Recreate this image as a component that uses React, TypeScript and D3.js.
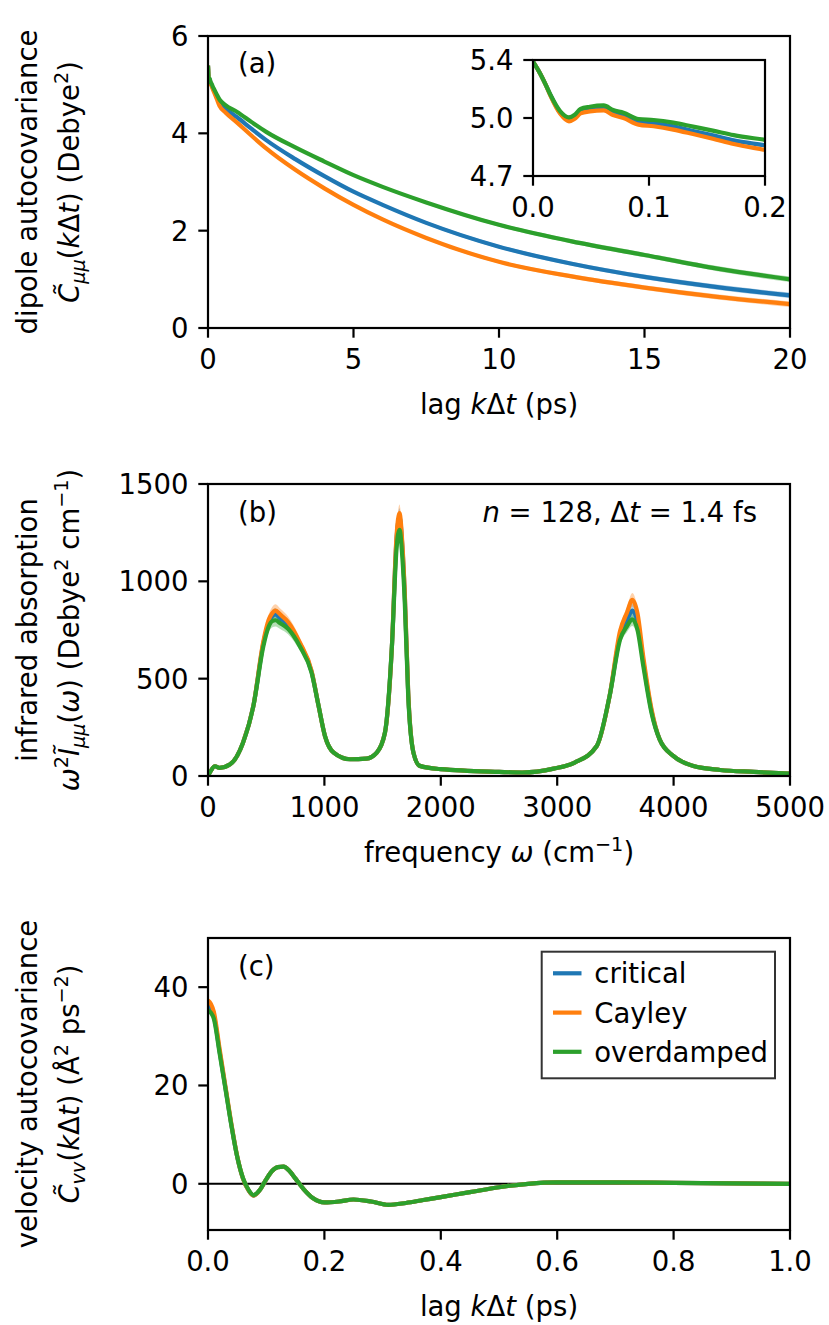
import React from 'react';
import * as d3 from 'd3';

const FONT = "'DejaVu Sans', sans-serif";
const FS = 27.5;

const seriesNames = ['critical', 'Cayley', 'overdamped'];
const seriesColors = ['#1f77b4', '#ff7f0e', '#2ca02c'];

// ---------- (a) dipole autocovariance ----------
const dipoleLag = [0, 0.006, 0.011, 0.015, 0.0235, 0.031, 0.036, 0.041, 0.049, 0.061, 0.069, 0.078, 0.091, 0.104, 0.121, 0.138, 0.155, 0.173, 0.2, 0.3, 0.4, 0.6, 1, 1.5, 2, 3, 4, 5, 6, 7.5, 10, 12.5, 15, 17.5, 20];
const dipoleCritical = [5.39, 5.32, 5.25, 5.19, 5.08, 5.04, 5.055, 5.09, 5.103, 5.11, 5.08, 5.064, 5.025, 5.018, 5.0, 4.972, 4.945, 4.915, 4.885, 4.75, 4.62, 4.51, 4.33, 4.09, 3.86, 3.47, 3.12, 2.80, 2.53, 2.16, 1.67, 1.32, 1.05, 0.84, 0.67];
const dipoleCayley = [5.39, 5.32, 5.25, 5.185, 5.075, 5.03, 5.045, 5.078, 5.09, 5.096, 5.068, 5.05, 5.01, 5.0, 4.98, 4.953, 4.925, 4.893, 4.857, 4.71, 4.56, 4.43, 4.22, 3.95, 3.69, 3.25, 2.87, 2.53, 2.23, 1.85, 1.36, 1.06, 0.83, 0.64, 0.49];
const dipoleOverdamped = [5.39, 5.32, 5.25, 5.19, 5.09, 5.054, 5.07, 5.105, 5.118, 5.126, 5.098, 5.082, 5.044, 5.038, 5.022, 4.998, 4.974, 4.947, 4.918, 4.80, 4.69, 4.58, 4.44, 4.23, 4.03, 3.71, 3.42, 3.14, 2.90, 2.58, 2.12, 1.78, 1.50, 1.22, 1.00];
const dipoleBand = [0.002, 0.002, 0.002, 0.003, 0.003, 0.003, 0.003, 0.004, 0.004, 0.004, 0.004, 0.004, 0.005, 0.005, 0.005, 0.005, 0.005, 0.006, 0.006, 0.007, 0.008, 0.009, 0.011, 0.013, 0.015, 0.018, 0.021, 0.024, 0.027, 0.031, 0.037, 0.042, 0.047, 0.052, 0.057];
const dipoleXTicks = [0, 5, 10, 15, 20];
const dipoleYTicks = [0, 2, 4, 6];
const insetXTicks = [0, 0.1, 0.2];
const insetXTickLabels = ['0.0', '0.1', '0.2'];
const insetYTicks = [4.7, 5.05, 5.4];
const insetYTickLabels = ['4.7', '5.0', '5.4'];

// ---------- (b) infrared absorption ----------
const irOmega = [0, 20, 60, 100, 190, 300, 390, 475, 520, 550, 580, 620, 690, 790, 890, 950, 1005, 1080, 1220, 1360, 1450, 1520, 1580, 1620, 1645, 1670, 1690, 1720, 1765, 1820, 2000, 2500, 2700, 2970, 3150, 3340, 3450, 3540, 3600, 3645, 3690, 3740, 3810, 3880, 4000, 4170, 4400, 4690, 5000];
const irCritical = [0, 22, 50, 42, 60, 170, 360, 680, 785, 820, 830, 810, 775, 675, 535, 360, 205, 120, 86, 89, 120, 222, 666, 1220, 1330, 1175, 940, 425, 120, 52, 35, 21, 18, 38, 69, 154, 410, 720, 800, 850, 790, 585, 335, 188, 102, 51, 31, 21, 12];
const irCayley = [0, 22, 50, 42, 60, 170, 360, 690, 800, 835, 850, 830, 790, 685, 540, 360, 205, 120, 86, 89, 120, 222, 666, 1235, 1350, 1190, 950, 430, 120, 52, 35, 21, 18, 38, 69, 154, 410, 745, 840, 905, 835, 610, 345, 188, 102, 51, 31, 21, 12];
const irOverdamped = [0, 22, 50, 42, 60, 170, 360, 665, 765, 795, 800, 785, 755, 665, 530, 360, 205, 120, 86, 89, 120, 222, 666, 1170, 1265, 1120, 900, 410, 120, 52, 35, 21, 18, 38, 69, 154, 410, 700, 770, 805, 750, 564, 325, 188, 102, 51, 31, 21, 12];
const irBand = [2, 3, 4, 4, 5, 8, 12, 20, 28, 32, 32, 30, 28, 22, 15, 10, 6, 4, 3, 3, 4, 8, 20, 35, 45, 35, 28, 14, 5, 3, 2, 2, 2, 2, 3, 6, 14, 25, 30, 35, 30, 22, 12, 7, 4, 3, 2, 2, 2];
const irXTicks = [0, 1000, 2000, 3000, 4000, 5000];
const irYTicks = [0, 500, 1000, 1500];

// ---------- (c) velocity autocovariance ----------
const vacfLag = [0, 0.005, 0.01, 0.02, 0.03, 0.04, 0.05, 0.06, 0.07, 0.078, 0.09, 0.1, 0.11, 0.12, 0.13, 0.14, 0.15, 0.165, 0.18, 0.2, 0.225, 0.25, 0.28, 0.31, 0.34, 0.37, 0.4, 0.45, 0.5, 0.55, 0.6, 0.7, 0.8, 0.9, 1.0];
const vacfCritical = [36.3, 35.6, 34.2, 26.9, 19.5, 12.1, 5.6, 1.1, -1.4, -2.4, -1.1, 0.9, 2.6, 3.4, 3.5, 2.6, 1.1, -1.2, -2.9, -3.8, -3.6, -3.2, -3.6, -4.3, -3.9, -3.3, -2.7, -1.7, -0.7, 0.0, 0.3, 0.3, 0.2, 0.1, 0.0];
const vacfCayley = [37.3, 36.6, 35.0, 27.4, 19.8, 12.3, 5.7, 1.1, -1.4, -2.4, -1.1, 0.9, 2.6, 3.4, 3.5, 2.6, 1.1, -1.2, -2.9, -3.8, -3.6, -3.2, -3.6, -4.3, -3.9, -3.3, -2.7, -1.7, -0.7, 0.0, 0.3, 0.3, 0.2, 0.1, 0.0];
const vacfOverdamped = [35.3, 34.8, 33.6, 26.5, 19.3, 12.0, 5.6, 1.2, -1.3, -2.3, -1.1, 0.9, 2.6, 3.4, 3.5, 2.6, 1.1, -1.2, -2.9, -3.8, -3.6, -3.2, -3.6, -4.3, -3.9, -3.3, -2.7, -1.7, -0.7, 0.0, 0.3, 0.3, 0.2, 0.1, 0.0];
const vacfBand = [0.3, 0.3, 0.3, 0.3, 0.3, 0.3, 0.2, 0.2, 0.2, 0.2, 0.2, 0.2, 0.2, 0.2, 0.2, 0.2, 0.2, 0.2, 0.2, 0.2, 0.2, 0.2, 0.2, 0.2, 0.2, 0.2, 0.2, 0.2, 0.2, 0.2, 0.2, 0.2, 0.2, 0.2, 0.2];
const vacfXTicks = [0, 0.2, 0.4, 0.6, 0.8, 1.0];
const vacfYTicks = [0, 20, 40];

// ---------- layout ----------
const W = 829;
const H = 1325;
const PL = 208;
const PR = 790;
const PH = 292;
const TOPS = [36, 484, 938];
const TICK = 9.7;
const SPINE = 2.2;
const LW = 4.2;

type Series = { xs: number[]; ys: number[]; band: number[]; color: string };

function Curves({ series, x, y, clipId }: { series: Series[]; x: any; y: any; clipId: string }) {
  return (
    <g clipPath={`url(#${clipId})`}>
      {series.map((s, k) => {
        const idx = d3.range(s.xs.length);
        const area = d3
          .area<number>()
          .x((i) => x(s.xs[i]))
          .y0((i) => y(s.ys[i] - s.band[i]))
          .y1((i) => y(s.ys[i] + s.band[i]))
          .curve(d3.curveMonotoneX);
        return <path key={'b' + k} d={area(idx) || ''} fill={s.color} fillOpacity={0.35} stroke="none" />;
      })}
      {series.map((s, k) => {
        const idx = d3.range(s.xs.length);
        const line = d3
          .line<number>()
          .x((i) => x(s.xs[i]))
          .y((i) => y(s.ys[i]))
          .curve(d3.curveMonotoneX);
        return (
          <path key={'l' + k} d={line(idx) || ''} fill="none" stroke={s.color} strokeWidth={LW} strokeLinejoin="round" strokeLinecap="butt" />
        );
      })}
    </g>
  );
}

function Frame({
  x, y, xTicks, xLabels, yTicks, yLabels, fs,
}: { x: any; y: any; xTicks: number[]; xLabels: string[]; yTicks: number[]; yLabels: string[]; fs: number }) {
  const [l, r] = x.range();
  const [b, t] = y.range();
  return (
    <g>
      <rect x={l} y={t} width={r - l} height={b - t} fill="none" stroke="black" strokeWidth={SPINE} />
      {xTicks.map((v, i) => (
        <g key={'x' + i}>
          <line x1={x(v)} x2={x(v)} y1={b} y2={b + TICK} stroke="black" strokeWidth={SPINE} />
          <text x={x(v)} y={b + 41} textAnchor="middle" fontSize={fs} fontFamily={FONT}>
            {xLabels[i]}
          </text>
        </g>
      ))}
      {yTicks.map((v, i) => (
        <g key={'y' + i}>
          <line x1={l - TICK} x2={l} y1={y(v)} y2={y(v)} stroke="black" strokeWidth={SPINE} />
          <text x={l - 19.4} y={y(v)} dy="0.36em" textAnchor="end" fontSize={fs} fontFamily={FONT}>
            {yLabels[i]}
          </text>
        </g>
      ))}
    </g>
  );
}

const it = { fontStyle: 'italic' as const };
const SUBFS = FS * 0.7;

function Sub({ children }: { children: React.ReactNode }) {
  return (
    <>
      <tspan style={it} fontSize={SUBFS} dy={FS * 0.22}>{children}</tspan>
      <tspan dy={-FS * 0.22}>{'\u200B'}</tspan>
    </>
  );
}
function Sup({ children }: { children: React.ReactNode }) {
  return (
    <>
      <tspan fontSize={SUBFS} dy={-FS * 0.4}>{children}</tspan>
      <tspan dy={FS * 0.4}>{'\u200B'}</tspan>
    </>
  );
}

function YLabel({ cy, line1, line2 }: { cy: number; line1: string; line2: React.ReactNode }) {
  return (
    <g fontFamily={FONT} fontSize={FS}>
      <text transform={`translate(37,${cy}) rotate(-90)`} textAnchor="middle">{line1}</text>
      <text transform={`translate(79,${cy}) rotate(-90)`} textAnchor="middle">{line2}</text>
    </g>
  );
}

const fmt1 = (v: number) => v.toFixed(1);
const fmt0 = (v: number) => String(v);

export default function App() {
  const xA = d3.scaleLinear().domain([0, 20]).range([PL, PR]);
  const yA = d3.scaleLinear().domain([0, 6]).range([TOPS[0] + PH, TOPS[0]]);
  const xI = d3.scaleLinear().domain([0, 0.2]).range([533, 765]);
  const yI = d3.scaleLinear().domain([4.7, 5.4]).range([176, 60]);
  const xB = d3.scaleLinear().domain([0, 5000]).range([PL, PR]);
  const yB = d3.scaleLinear().domain([0, 1500]).range([TOPS[1] + PH, TOPS[1]]);
  const xC = d3.scaleLinear().domain([0, 1]).range([PL, PR]);
  const yC = d3.scaleLinear().domain([-9.4, 50]).range([TOPS[2] + PH, TOPS[2]]);

  const sA: Series[] = [dipoleCritical, dipoleCayley, dipoleOverdamped].map((ys, k) => ({ xs: dipoleLag, ys, band: dipoleBand, color: seriesColors[k] }));
  const sB: Series[] = [irCritical, irCayley, irOverdamped].map((ys, k) => ({ xs: irOmega, ys, band: irBand, color: seriesColors[k] }));
  const sC: Series[] = [vacfCritical, vacfCayley, vacfOverdamped].map((ys, k) => ({ xs: vacfLag, ys, band: vacfBand, color: seriesColors[k] }));

  const clip = (id: string, x: any, y: any) => {
    const [l, r] = x.range();
    const [b, t] = y.range();
    return (
      <clipPath id={id}>
        <rect x={l} y={t} width={r - l} height={b - t} />
      </clipPath>
    );
  };

  const lagLabel = (
    <>
      lag <tspan style={it}>k</tspan>Δ<tspan style={it}>t</tspan> (ps)
    </>
  );

  const legendX = 541.7;
  const legendY = 951.7;
  const legendRows = [973.3, 1012.6, 1051.8];

  return (
    <svg width={W} height={H} viewBox={`0 0 ${W} ${H}`} style={{ position: 'absolute', left: 0, top: 0, background: 'white' }}>
      <defs>
        {clip('clipA', xA, yA)}
        {clip('clipI', xI, yI)}
        {clip('clipB', xB, yB)}
        {clip('clipC', xC, yC)}
      </defs>
      <rect x={0} y={0} width={W} height={H} fill="white" />

      {/* (a) */}
      <Curves series={sA} x={xA} y={yA} clipId="clipA" />
      <Frame x={xA} y={yA} xTicks={dipoleXTicks} xLabels={dipoleXTicks.map(fmt0)} yTicks={dipoleYTicks} yLabels={dipoleYTicks.map(fmt0)} fs={FS} />
      <text x={238} y={73} fontFamily={FONT} fontSize={FS}>(a)</text>
      <text x={(PL + PR) / 2} y={TOPS[0] + PH + 86} textAnchor="middle" fontFamily={FONT} fontSize={FS}>{lagLabel}</text>
      <YLabel
        cy={TOPS[0] + PH / 2}
        line1="dipole autocovariance"
        line2={
          <>
            <tspan style={it}>{'C\u0303'}</tspan>
            <Sub>μμ</Sub>(<tspan style={it}>k</tspan>Δ<tspan style={it}>t</tspan>) (Debye<Sup>2</Sup>)
          </>
        }
      />
      {/* inset */}
      <rect x={533} y={60} width={232} height={116} fill="white" />
      <Curves series={sA} x={xI} y={yI} clipId="clipI" />
      <Frame x={xI} y={yI} xTicks={insetXTicks} xLabels={insetXTickLabels} yTicks={insetYTicks} yLabels={insetYTickLabels} fs={FS} />

      {/* (b) */}
      <Curves series={sB} x={xB} y={yB} clipId="clipB" />
      <Frame x={xB} y={yB} xTicks={irXTicks} xLabels={irXTicks.map(fmt0)} yTicks={irYTicks} yLabels={irYTicks.map(fmt0)} fs={FS} />
      <text x={238} y={TOPS[1] + 37.5} fontFamily={FONT} fontSize={FS}>(b)</text>
      <text x={757} y={TOPS[1] + 38} textAnchor="end" fontFamily={FONT} fontSize={FS}>
        <tspan style={it}>n</tspan> = 128, Δ<tspan style={it}>t</tspan> = 1.4 fs
      </text>
      <text x={(PL + PR) / 2} y={TOPS[1] + PH + 86} textAnchor="middle" fontFamily={FONT} fontSize={FS}>
        frequency <tspan style={it}>ω</tspan> (cm<Sup>−1</Sup>)
      </text>
      <YLabel
        cy={TOPS[1] + PH / 2}
        line1="infrared absorption"
        line2={
          <>
            <tspan style={it}>ω</tspan>
            <Sup>2</Sup>
            <tspan style={it}>{'I\u0303'}</tspan>
            <Sub>μμ</Sub>(<tspan style={it}>ω</tspan>) (Debye<Sup>2</Sup> cm<Sup>−1</Sup>)
          </>
        }
      />

      {/* (c) */}
      <line x1={PL} x2={PR} y1={yC(0)} y2={yC(0)} stroke="black" strokeWidth={2} />
      <Curves series={sC} x={xC} y={yC} clipId="clipC" />
      <Frame x={xC} y={yC} xTicks={vacfXTicks} xLabels={vacfXTicks.map(fmt1)} yTicks={vacfYTicks} yLabels={vacfYTicks.map(fmt0)} fs={FS} />
      <text x={238} y={TOPS[2] + 38} fontFamily={FONT} fontSize={FS}>(c)</text>
      <text x={(PL + PR) / 2} y={TOPS[2] + PH + 86} textAnchor="middle" fontFamily={FONT} fontSize={FS}>{lagLabel}</text>
      <YLabel
        cy={TOPS[2] + PH / 2}
        line1="velocity autocovariance"
        line2={
          <>
            <tspan style={it}>{'C\u0303'}</tspan>
            <Sub>vv</Sub>(<tspan style={it}>k</tspan>Δ<tspan style={it}>t</tspan>) (Å<Sup>2</Sup> ps<Sup>−2</Sup>)
          </>
        }
      />
      {/* legend */}
      <rect x={legendX} y={legendY} width={233.3} height={126.6} fill="white" stroke="#333" strokeWidth={2} />
      {seriesNames.map((n, k) => (
        <g key={n}>
          <line x1={553} x2={581.5} y1={legendRows[k]} y2={legendRows[k]} stroke={seriesColors[k]} strokeWidth={LW} />
          <text x={594.3} y={legendRows[k]} dy="0.36em" fontFamily={FONT} fontSize={FS}>{n}</text>
        </g>
      ))}
    </svg>
  );
}
